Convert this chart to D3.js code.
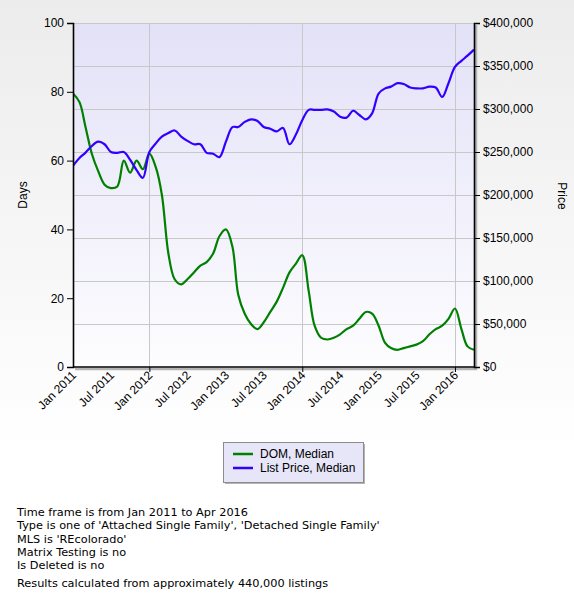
<!DOCTYPE html>
<html>
<head>
<meta charset="utf-8">
<script src="https://cdn.jsdelivr.net/npm/d3@7"></script>
<style>
  body { margin: 0; background: #fff; }
  svg text { font-family: "Liberation Sans", Arial, sans-serif; }
</style>
</head>
<body>
<script>
// monthly medians, Jan 2011 .. Apr 2016
var startMonth = new Date(2011, 0, 1);
var endMonth = new Date(2016, 3, 1);
var months = d3.timeMonth.range(startMonth, d3.timeMonth.offset(endMonth, 1));

var domMedian = [79.5, 77, 70, 62, 57, 53, 52, 52.5, 60, 56.5, 60, 57.5,
  62, 58, 50, 33, 25.5, 24, 25.5, 27.5, 29.5, 30.5, 33, 38,
  40, 35, 21, 15.5, 12.5, 11, 13, 16, 19, 23, 27.5, 30,
  32.5, 22, 12, 8.5, 8, 8.5, 9.5, 11, 12, 14, 16, 15.5,
  12, 7, 5.5, 5, 5.5, 6, 6.5, 7.5, 9.5, 11, 12, 14,
  17, 11, 6, 5];

var listPriceMedian = [234000, 243000, 249000, 257000, 262000, 259000, 250000, 249000, 250000, 241000, 229000, 220000,
  250000, 260000, 268000, 272000, 275000, 268000, 263000, 259000, 259000, 249000, 248000, 244000,
  262000, 279000, 279000, 285000, 288000, 286000, 279000, 277000, 274000, 278000, 259000, 270000,
  287000, 299000, 299000, 299000, 299500, 297000, 291000, 290000, 298000, 293000, 288000, 295000,
  318000, 324000, 326000, 330000, 329000, 325000, 324000, 324000, 326000, 325000, 314000, 330000,
  349000, 356000, 362000, 369000];

var xTickLabels = ["Jan 2011", "Jul 2011", "Jan 2012", "Jul 2012", "Jan 2013", "Jul 2013",
  "Jan 2014", "Jul 2014", "Jan 2015", "Jul 2015", "Jan 2016"];
var xGridYears = ["Jan 2012", "Jan 2014", "Jan 2016"];
var daysTicks = [0, 20, 40, 60, 80, 100];
var priceTicks = [0, 50000, 100000, 150000, 200000, 250000, 300000, 350000, 400000];

var seriesNames = ["DOM, Median", "List Price, Median"];
var seriesColors = ["#008000", "#3300ff"];

var footerLines = [
  "Time frame is from Jan 2011 to Apr 2016",
  "Type is one of 'Attached Single Family', 'Detached Single Family'",
  "MLS is 'REcolorado'",
  "Matrix Testing is no",
  "Is Deleted is no"
];
var footerNote = "Results calculated from approximately 440,000 listings";

var W = 574, H = 597;
var pL = 73, pR = 474, pT = 23, pB = 367;
var parseLbl = d3.timeParse("%b %Y");

var svg = d3.select("body").append("svg")
  .attr("width", W)
  .attr("height", H);

var defs = svg.append("defs");
var pageGrad = defs.append("linearGradient").attr("id", "pageGrad")
  .attr("x1", 0).attr("y1", 0).attr("x2", 0).attr("y2", 1);
pageGrad.append("stop").attr("offset", "0%").attr("stop-color", "#ececec");
pageGrad.append("stop").attr("offset", "100%").attr("stop-color", "#ffffff");
var plotGrad = defs.append("linearGradient").attr("id", "plotGrad")
  .attr("x1", 0).attr("y1", 0).attr("x2", 0).attr("y2", 1);
plotGrad.append("stop").attr("offset", "0%").attr("stop-color", "#e3e1f7");
plotGrad.append("stop").attr("offset", "100%").attr("stop-color", "#fdfdff");
defs.append("clipPath").attr("id", "plotClip")
  .append("rect").attr("x", pL).attr("y", pT - 2)
  .attr("width", pR - pL).attr("height", pB - pT + 2);

svg.append("rect").attr("width", W).attr("height", 452).attr("fill", "url(#pageGrad)");

var x = d3.scaleTime().domain([startMonth, endMonth]).range([pL, pR]);
var yDays = d3.scaleLinear().domain([0, 100]).range([pB, pT]);
var yPrice = d3.scaleLinear().domain([0, 400000]).range([pB, pT]);

// plot shadow + background
svg.append("path")
  .attr("d", "M" + (pR + 2) + "," + (pT + 2) + "V" + (pB + 2) + "H" + (pL + 2))
  .attr("fill", "none").attr("stroke", "#b4b4b4").attr("stroke-width", 2.5);
svg.append("rect")
  .attr("x", pL).attr("y", pT)
  .attr("width", pR - pL).attr("height", pB - pT)
  .attr("fill", "url(#plotGrad)");

// grid
svg.append("g").selectAll("line")
  .data(priceTicks.slice(1))
  .enter().append("line")
  .attr("x1", pL).attr("x2", pR)
  .attr("y1", function(d) { return Math.round(yPrice(d)) + 0.5; })
  .attr("y2", function(d) { return Math.round(yPrice(d)) + 0.5; })
  .attr("stroke", "#c8c8c8");
svg.append("g").selectAll("line")
  .data(xGridYears)
  .enter().append("line")
  .attr("x1", function(d) { return Math.round(x(parseLbl(d))) + 0.5; })
  .attr("x2", function(d) { return Math.round(x(parseLbl(d))) + 0.5; })
  .attr("y1", pT).attr("y2", pB)
  .attr("stroke", "#c8c8c8");

// series
var lineDom = d3.line()
  .x(function(d, i) { return x(months[i]); })
  .y(function(d) { return yDays(d); })
  .curve(d3.curveCatmullRom.alpha(0.5));
var linePrice = d3.line()
  .x(function(d, i) { return x(months[i]); })
  .y(function(d) { return yPrice(d); })
  .curve(d3.curveCatmullRom.alpha(0.5));

var plot = svg.append("g").attr("clip-path", "url(#plotClip)");
plot.append("path").datum(domMedian)
  .attr("d", lineDom)
  .attr("fill", "none").attr("stroke", seriesColors[0]).attr("stroke-width", 2.2);
plot.append("path").datum(listPriceMedian)
  .attr("d", linePrice)
  .attr("fill", "none").attr("stroke", seriesColors[1]).attr("stroke-width", 2.2);

// axes
var gl = svg.append("g").attr("transform", "translate(" + pL + ",0)")
  .call(d3.axisLeft(yDays).tickValues(daysTicks).tickSizeOuter(0).tickSize(6).tickPadding(3));
var gr = svg.append("g").attr("transform", "translate(" + pR + ",0)")
  .call(d3.axisRight(yPrice).tickValues(priceTicks).tickFormat(d3.format("$,")).tickSizeOuter(0).tickSize(6).tickPadding(3));
[gl, gr].forEach(function(g) {
  g.select(".domain").attr("stroke", "#000").attr("stroke-width", 1.6);
  g.selectAll(".tick line").attr("stroke", "#000");
  g.selectAll("text").attr("fill", "#000").attr("font-size", 12)
    .attr("font-family", "Liberation Sans, Arial, sans-serif");
});

var gb = svg.append("g").attr("transform", "translate(0," + pB + ")")
  .call(d3.axisBottom(x).tickValues(xGridYears.map(parseLbl)).tickFormat("").tickSize(5).tickSizeOuter(0));
gb.select(".domain").attr("stroke", "#000").attr("stroke-width", 1.6)
  .attr("d", "M" + pL + ",0H" + pR);
gb.selectAll(".tick line").attr("stroke", "#000");

svg.append("g").selectAll("text")
  .data(xTickLabels)
  .enter().append("text")
  .attr("transform", function(d) {
    return "translate(" + (x(parseLbl(d)) + 4) + "," + (pB + 9) + ") rotate(-45)";
  })
  .attr("text-anchor", "end")
  .attr("font-size", 12)
  .attr("fill", "#000")
  .text(function(d) { return d; });

svg.append("text")
  .attr("transform", "translate(27,195) rotate(-90)")
  .attr("text-anchor", "middle").attr("font-size", 12).attr("fill", "#000")
  .text("Days");
svg.append("text")
  .attr("transform", "translate(558,196) rotate(90)")
  .attr("text-anchor", "middle").attr("font-size", 12).attr("fill", "#000")
  .text("Price");

// legend
var lg = svg.append("g").attr("transform", "translate(223,442)");
lg.append("rect").attr("x", 2).attr("y", 2).attr("width", 140).attr("height", 40).attr("fill", "#b4b4b4");
lg.append("rect").attr("x", 0.5).attr("y", 0.5).attr("width", 140).attr("height", 40)
  .attr("fill", "#e6e6f8").attr("stroke", "#8c8c8c");
seriesNames.forEach(function(name, i) {
  lg.append("line")
    .attr("x1", 10).attr("x2", 30)
    .attr("y1", 12 + i * 14).attr("y2", 12 + i * 14)
    .attr("stroke", seriesColors[i]).attr("stroke-width", 2.5);
  lg.append("text")
    .attr("x", 37).attr("y", 16 + i * 14)
    .attr("font-size", 12).attr("fill", "#000")
    .text(name);
});

// footer
var ft = svg.append("g").attr("font-size", 11.3);
ft.selectAll("text.line")
  .data(footerLines)
  .enter().append("text")
  .attr("class", "line")
  .attr("x", 17)
  .attr("y", function(d, i) { return 516 + i * 13.3; })
  .attr("fill", "#000")
  .style("font-family", "DejaVu Sans, Verdana, sans-serif")
  .text(function(d) { return d; });
ft.append("text")
  .attr("x", 17).attr("y", 587)
  .attr("fill", "#000")
  .style("font-family", "DejaVu Sans, Verdana, sans-serif")
  .text(footerNote);
</script>
</body>
</html>
